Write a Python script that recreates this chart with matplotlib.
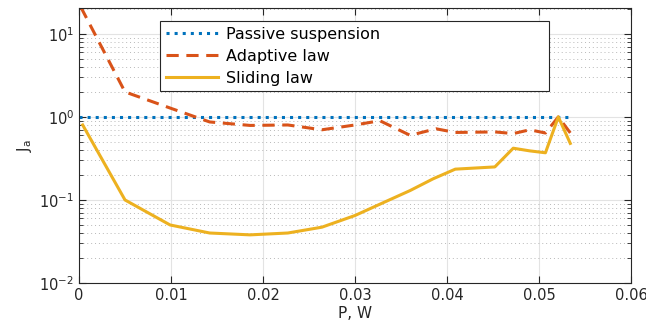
import numpy as np
import matplotlib
matplotlib.use("Agg")
import matplotlib.pyplot as plt
from matplotlib.ticker import LogLocator, NullFormatter

# values
passive_p = [0.0, 0.0534]
passive_j = [1.0, 1.0]

adaptive_p = [0.0002, 0.0050, 0.0099, 0.0142, 0.0186, 0.0227, 0.0264, 0.0300,
              0.0327, 0.0360, 0.0388, 0.0409, 0.0452, 0.0472, 0.0490, 0.0507,
              0.0521, 0.0536]
adaptive_j = [21.0, 2.0, 1.28, 0.87, 0.79, 0.80, 0.70, 0.80,
              0.90, 0.60, 0.72, 0.65, 0.66, 0.63, 0.70, 0.64,
              1.0, 0.60]

sliding_p = [0.0004, 0.0050, 0.0099, 0.0142, 0.0186, 0.0227, 0.0264, 0.0300,
             0.0330, 0.0360, 0.0385, 0.0409, 0.0452, 0.0472, 0.0490, 0.0507,
             0.0521, 0.0534]
sliding_j = [0.80, 0.100, 0.050, 0.040, 0.038, 0.040, 0.047, 0.065,
             0.092, 0.130, 0.180, 0.235, 0.250, 0.420, 0.390, 0.370,
             1.0, 0.48]

fig = plt.figure(figsize=(6.46, 3.28), dpi=100)
ax = fig.add_axes([79 / 646, 1 - 283 / 328, 552 / 646, 275 / 328])

ax.plot(passive_p, passive_j, ':', color='#0072BD', lw=2.2, label='Passive suspension')
ax.plot(adaptive_p, adaptive_j, '--', color='#D95319', lw=2.2, dashes=(4, 2.5), label='Adaptive law')
ax.plot(sliding_p, sliding_j, '-', color='#EDB120', lw=2.2, label='Sliding law')

ax.set_yscale('log')
ax.set_xlim(0, 0.06)
ax.set_ylim(0.01, 20.5)
ax.set_xticks([0, 0.01, 0.02, 0.03, 0.04, 0.05, 0.06])
ax.set_xticklabels(['0', '0.01', '0.02', '0.03', '0.04', '0.05', '0.06'])
ax.yaxis.set_major_locator(LogLocator(base=10, numticks=10))
ax.yaxis.set_minor_locator(LogLocator(base=10, subs=np.arange(2, 10), numticks=20))
ax.yaxis.set_minor_formatter(NullFormatter())

ax.grid(True, which='major', color='#e3e3e3', lw=0.8)
ax.grid(True, which='minor', axis='y', color='#b8b8b8', lw=0.7, ls=(0, (1, 3)))
ax.set_axisbelow(True)

ax.tick_params(which='both', direction='in', top=True, right=True, colors='#262626',
               labelsize=10.5)
ax.tick_params(which='major', length=5)
ax.tick_params(which='minor', length=3)
for s in ax.spines.values():
    s.set_color('#262626')
    s.set_linewidth(0.8)

ax.set_xlabel('P, W', fontsize=11, color='#262626', labelpad=2)
ax.set_ylabel(r'J$_{\rm a}$', fontsize=11, color='#262626')

leg = ax.legend(loc='upper left', bbox_to_anchor=(0.147, 0.953, 0.705, 0), mode='expand',
                borderaxespad=0, fontsize=11.5, fancybox=False, framealpha=1,
                edgecolor='#262626', handlelength=3.3, handletextpad=0.45,
                borderpad=0.35, labelspacing=0.45)
leg.get_frame().set_linewidth(0.8)

fig.savefig('out.png', dpi=100)
